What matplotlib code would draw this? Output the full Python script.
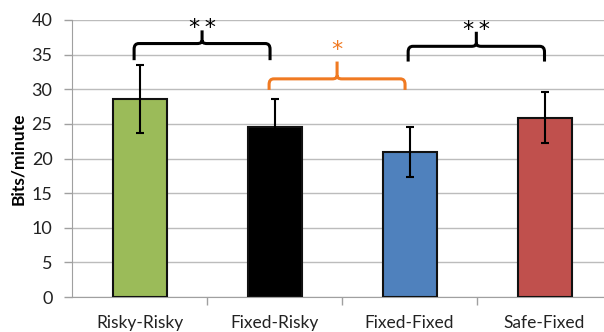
import matplotlib
matplotlib.use('Agg')
import matplotlib.pyplot as plt
from matplotlib.path import Path
from matplotlib.patches import PathPatch

plt.rcParams['font.family'] = ['Lato', 'DejaVu Sans']

categories = ['Risky-Risky', 'Fixed-Risky', 'Fixed-Fixed', 'Safe-Fixed']
values = [28.6, 24.6, 20.95, 25.9]
errors = [4.9, 4.0, 3.6, 3.7]
colors = ['#9BBB59', '#000000', '#4F81BD', '#C0504D']

# significance brackets: (left x, right x, end y, bar y, tip y, label, colour)
brackets = [
    (-0.04, 0.967, 34.2, 36.6, 38.5, '*\u2009*', '#000000'),
    (0.96, 1.967, 29.9, 31.5, 34.0, '*', '#F07A22'),
    (1.99, 3.0, 34.0, 36.2, 38.3, '*\u2009*', '#000000'),
]
label_y = [39.6, 36.4, 39.4]

fig = plt.figure(figsize=(6.04, 3.32), dpi=100)
ax = fig.add_axes([72 / 604, 35 / 332, 540 / 604, 277 / 332])

x = range(len(categories))
ax.bar(x, values, width=0.4, color=colors, edgecolor='#111111', linewidth=1.5, zorder=3)
ax.errorbar(x, values, yerr=errors, fmt='none', ecolor='black', elinewidth=1.5,
            capsize=3, capthick=1.5, zorder=4)

ax.set_xlim(-0.5, 3.5)
ax.set_ylim(0, 40)
ax.set_yticks(range(0, 41, 5))
ax.set_xticks(list(x))
ax.set_xticklabels(categories, fontsize=12.5)
ax.set_xticks([0.5, 1.5, 2.5, 3.5], minor=True)
ax.tick_params(axis='x', which='major', length=0, pad=13, colors='#222222')
ax.tick_params(axis='x', which='minor', length=6, color='#a0a0a0', width=1)
ax.tick_params(axis='y', length=6, color='#a0a0a0', width=1, pad=8, labelsize=13,
               labelcolor='#222222')
ax.yaxis.grid(True, color='#bcbcbc', linewidth=1, zorder=0)
ax.set_axisbelow(True)
for s in ['top', 'right']:
    ax.spines[s].set_visible(False)
for s in ['left', 'bottom']:
    ax.spines[s].set_color('#a0a0a0')
ax.set_ylabel('Bits/minute', fontsize=12.5, fontweight='bold', labelpad=4)

rx, ry = 0.035, 0.8
for (x0, x1, ye, yh, yt, txt, col), ly in zip(brackets, label_y):
    xc = (x0 + x1) / 2
    verts = [(x0, ye), (x0, yh - ry), (x0, yh), (x0 + rx, yh),
             (xc - rx, yh), (xc, yh), (xc, yh + ry * 0.6), (xc, yt)]
    codes = [Path.MOVETO, Path.LINETO, Path.CURVE3, Path.CURVE3,
             Path.LINETO, Path.CURVE3, Path.CURVE3, Path.LINETO]
    verts2 = [(x1, ye), (x1, yh - ry), (x1, yh), (x1 - rx, yh),
              (xc + rx, yh), (xc, yh), (xc, yh + ry * 0.6)]
    codes2 = [Path.MOVETO, Path.LINETO, Path.CURVE3, Path.CURVE3,
              Path.LINETO, Path.CURVE3, Path.CURVE3]
    path = Path(verts + verts2, codes + codes2)
    ax.add_patch(PathPatch(path, facecolor='none', edgecolor=col, linewidth=2.2,
                           capstyle='butt', zorder=5, clip_on=False))
    ax.text(xc, ly - 0.8, txt, color=col, fontsize=16, ha='center', va='center',
            family='DejaVu Sans', clip_on=False, zorder=6)

fig.savefig('out.png', dpi=100)
